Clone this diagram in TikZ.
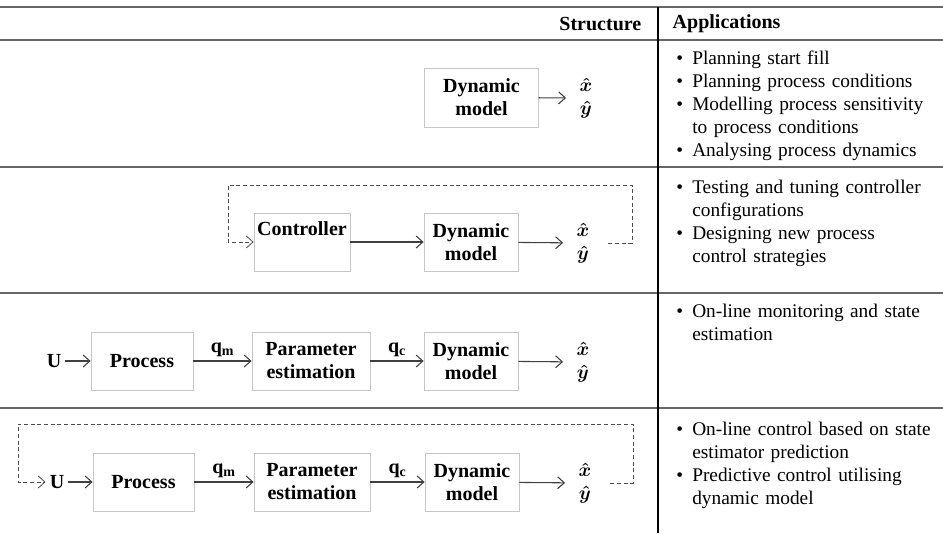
\documentclass[tikz,border=0pt]{standalone}
\usepackage{fontspec}
\setmainfont{Liberation Serif}
\usepackage{amsmath}
\usepackage{amssymb}
\usetikzlibrary{shapes,arrows,arrows.meta}

\newcommand{\appitem}[1]{\par\noindent\hangindent=12pt\hangafter=1\makebox[12pt][l]{\textbullet}#1}

\begin{document}
\begin{tikzpicture}[x=0.75pt,y=-0.75pt]
		\tikzstyle {block} = [draw=gray!45, line width=0.6pt, inner sep=0pt, align=center, font=\bfseries\fontsize{15}{17.25}\selectfont]
		\tikzstyle {flow} = [-{Straight Barb[length=5pt,width=9pt]}, draw=black!75, line width=0.8pt]
		\tikzstyle {feedback} = [-{Straight Barb[length=5pt,width=9pt]}, densely dashed, draw=black!70, line width=0.6pt]
		\tikzstyle {table line} = [draw=black!60, line width=1.3pt]
		\tikzstyle {output} = [inner xsep=10pt, inner ysep=0pt, align=center, font=\boldmath\fontsize{15}{17.25}\selectfont]
		\tikzstyle {signal} = [inner xsep=3pt, inner ysep=0pt, font=\bfseries\fontsize{15}{17.25}\selectfont]
		\tikzstyle {apps} = [anchor=north west, inner sep=0pt, text width=200pt, align=left, font=\fontsize{14.5}{17.25}\selectfont]

		\useasboundingbox (0,0) rectangle (943,533);

		% table
		\draw[table line] (0,7) -- (943,7);
		\draw[table line] (0,40) -- (943,40);
		\draw[table line] (0,167) -- (943,167);
		\draw[table line] (0,293) -- (943,293);
		\draw[table line] (0,408) -- (943,408);
		\draw[black, line width=0.8pt] (658,7) -- (658,533);

		\node[anchor=east, font=\bfseries\fontsize{15}{17.25}\selectfont] (structure) at (646,24) {Structure};
		\node[anchor=west, font=\bfseries\fontsize{15}{17.25}\selectfont] (applications) at (668,24) {Applications};

		% simulation
		\node[block, minimum width=85pt, minimum height=44.25pt] (dyn1) at (481.5,97.5) {Dynamic\\model};
		\node[output] (out1) at (586,98) {$\hat{x}$\\$\hat{y}$};
		\draw[flow] (dyn1) -- (out1);

		% control
		\node[block, minimum width=72pt, minimum height=43.5pt] (ctrl) at (302,242) {\raisebox{-3pt}{Controller}\\\strut};
		\node[block, minimum width=70.5pt, minimum height=43.5pt] (dyn2) at (471,242) {Dynamic\\model};
		\node[output] (out2) at (583,243) {$\hat{x}$\\$\hat{y}$};
		\coordinate (fb2r) at (632,185);
		\coordinate (fb2l) at (228,185);
		\draw[flow] (ctrl) -- (dyn2);
		\draw[flow] (dyn2) -- (out2);
		\draw[feedback] ([xshift=4pt]out2.east) -| (fb2r) -- (fb2l) |- (ctrl.west);

		% estimation
		\node[signal] (u3) at (54,361) {U};
		\node[block, minimum width=76.5pt, minimum height=43.5pt] (proc3) at (142,361) {Process};
		\node[block, minimum width=88.5pt, minimum height=43.5pt] (par3) at (311,361) {Parameter\\estimation};
		\node[block, minimum width=70.5pt, minimum height=43.5pt] (dyn3) at (471,361) {Dynamic\\model};
		\node[output] (out3) at (583,362) {$\hat{x}$\\$\hat{y}$};
		\draw[flow] (u3) -- (proc3);
		\draw[flow] (proc3) -- node[signal, above=3pt] {q\textsubscript{m}} (par3);
		\draw[flow] (par3) -- node[signal, above=3pt] {q\textsubscript{c}} (dyn3);
		\draw[flow] (dyn3) -- (out3);

		% estimation with control
		\node[signal] (u4) at (57,482) {U};
		\node[block, minimum width=75.75pt, minimum height=43.5pt] (proc4) at (143.5,482) {Process};
		\node[block, minimum width=87pt, minimum height=43.5pt] (par4) at (312,482) {Parameter\\estimation};
		\node[block, minimum width=70.5pt, minimum height=43.5pt] (dyn4) at (472,482) {Dynamic\\model};
		\node[output] (out4) at (585,483) {$\hat{x}$\\$\hat{y}$};
		\coordinate (fb4r) at (633,424);
		\coordinate (fb4l) at (18,424);
		\draw[flow] (u4) -- (proc4);
		\draw[flow] (proc4) -- node[signal, above=3pt] {q\textsubscript{m}} (par4);
		\draw[flow] (par4) -- node[signal, above=3pt] {q\textsubscript{c}} (dyn4);
		\draw[flow] (dyn4) -- (out4);
		\draw[feedback] ([xshift=4pt]out4.east) -| (fb4r) -- (fb4l) |- (u4.west);

		% applications
		\node[apps] (apps1) at (676,41) {%
			\appitem{Planning start fill}
			\appitem{Planning process conditions}
			\appitem{Modelling process sensitivity\newline to process conditions}
			\appitem{Analysing process dynamics}\par};
		\node[apps] (apps2) at (676,170) {%
			\appitem{Testing and tuning controller\newline configurations}
			\appitem{Designing new process\newline control strategies}\par};
		\node[apps] (apps3) at (676,294) {%
			\appitem{On-line monitoring and state\newline estimation}\par};
		\node[apps] (apps4) at (676,412) {%
			\appitem{On-line control based on state\newline estimator prediction}
			\appitem{Predictive control utilising\newline dynamic model}\par};
\end{tikzpicture}
\end{document}
